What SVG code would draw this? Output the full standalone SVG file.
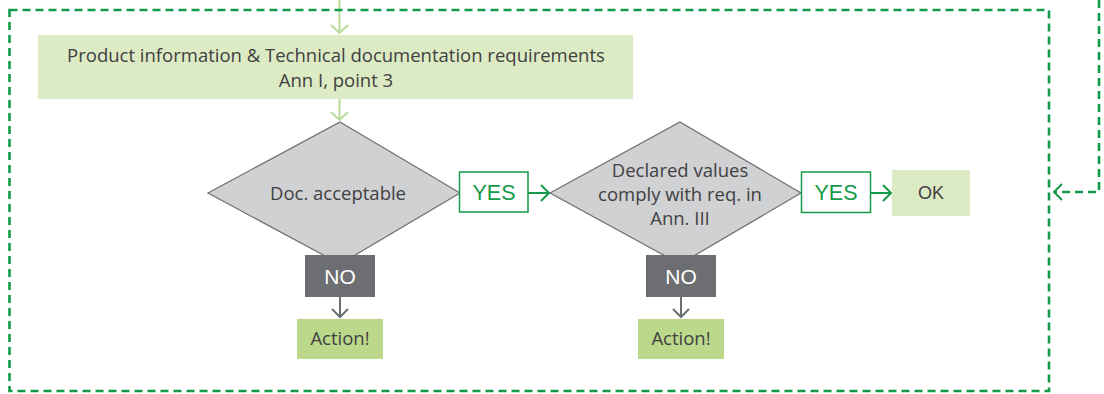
<svg xmlns="http://www.w3.org/2000/svg" width="1104" height="394" viewBox="0 0 1104 394">
<style>
.dash{fill:none;stroke:#13994a;stroke-width:2.6;stroke-dasharray:8 5}
.lg{fill:none;stroke:#b8dc98;stroke-width:2}
.gr{fill:none;stroke:#139b48;stroke-width:2}
.gy{fill:none;stroke:#6d6e70;stroke-width:2}
.dia{fill:#d0d1d3;stroke:#6d6e70;stroke-width:1.2}
.info{fill:#dcebc3}
.act{fill:#bcd98b}
.nob{fill:#6d6e71}
.yesb{fill:#fff;stroke:#139b48;stroke-width:1.5}
.t{font-family:"Open Sans","Liberation Sans",sans-serif;font-size:18.5px;fill:#414042;text-anchor:middle}
.a{font-family:"Liberation Sans",Arial,sans-serif;text-anchor:middle}
</style>
<g id="connectors">
<path class="dash" d="M1099,0 V192 H1054"/>
<path class="gr" d="M1062,184 L1054,192 L1062,200"/>
<path class="lg" d="M339.5,0 V33 M331,25 L339.5,33 L348,25"/>
<path class="lg" d="M339.5,99 V120 M331,112 L339.5,120 L348,112"/>
<path class="gr" d="M528,193 H548 M541,185 L549,193 L541,201"/>
<path class="gr" d="M871,193 H890 M883,185 L891,193 L883,201"/>
<path class="gy" d="M340,297 V317 M332,309 L340,317 L348,309"/>
<path class="gy" d="M681,297 V317 M673,309 L681,317 L689,309"/>
</g>
<g id="frame"><rect class="dash" x="9.5" y="10" width="1039.5" height="381"/></g>
<g id="info"><rect class="info" x="38" y="35" width="595" height="64"/>
<text class="t" x="336" y="62">Product information &amp; Technical documentation requirements</text>
<text class="t" x="336" y="87">Ann I, point 3</text></g>
<g id="d1"><polygon class="dia" points="340,122 460,193 340,264 208,193"/>
<text class="t" x="338" y="200">Doc. acceptable</text></g>
<g id="yes1"><rect class="yesb" x="459.5" y="172" width="68.5" height="40"/>
<text class="a" x="494" y="200" font-size="21.5" fill="#139b48">YES</text></g>
<g id="d2"><polygon class="dia" points="680,122 801,193 680,264 550,193"/>
<text class="t" x="680" y="177">Declared values</text>
<text class="t" x="680" y="201">comply with req. in</text>
<text class="t" x="680" y="225">Ann. III</text></g>
<g id="yes2"><rect class="yesb" x="801.5" y="172" width="69" height="40.5"/>
<text class="a" x="836" y="200" font-size="21.5" fill="#139b48">YES</text></g>
<g id="ok"><rect class="info" x="892" y="170" width="78" height="46"/>
<text class="a" x="931" y="199" font-size="18" fill="#414042">OK</text></g>
<g id="no1"><rect class="nob" x="305" y="255" width="70" height="42"/>
<text class="a" x="340" y="284" font-size="21" fill="#fff">NO</text></g>
<g id="no2"><rect class="nob" x="646" y="255" width="70" height="42"/>
<text class="a" x="681" y="284" font-size="21" fill="#fff">NO</text></g>
<g id="act1"><rect class="act" x="297" y="319" width="86" height="40"/>
<text class="t" x="340" y="345">Action!</text></g>
<g id="act2"><rect class="act" x="638" y="319" width="86" height="40"/>
<text class="t" x="681" y="345">Action!</text></g>
</svg>
